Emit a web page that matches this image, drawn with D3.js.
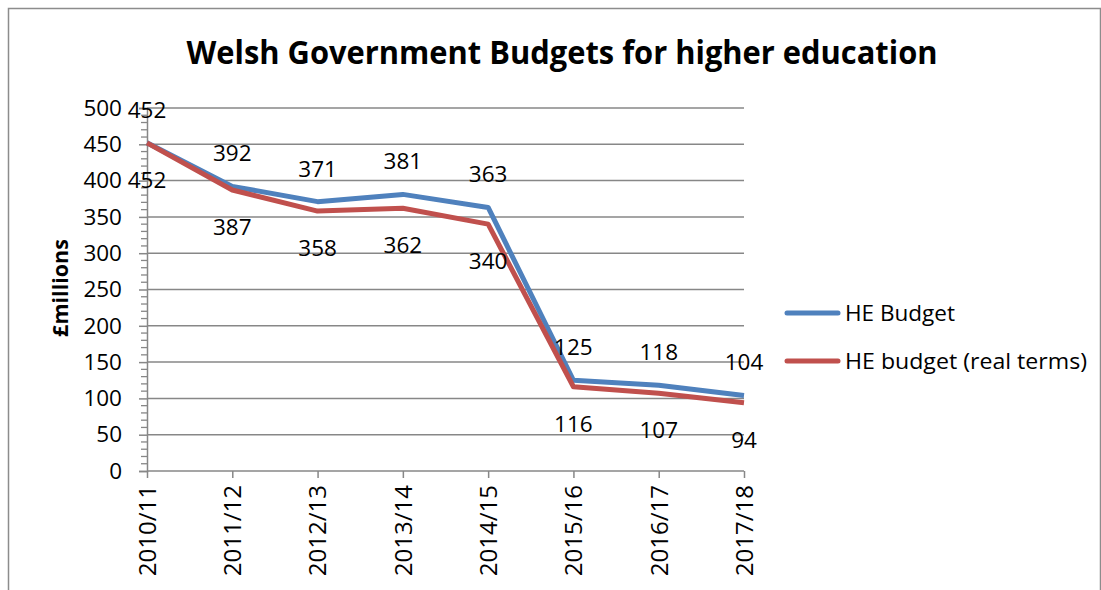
<!DOCTYPE html>
<html><head><meta charset="utf-8">
<script src="https://cdn.jsdelivr.net/npm/d3@7"></script>
<style>body{margin:0;background:#fff}svg{display:block}text{font-family:"Open Sans","Noto Sans",sans-serif;fill:#000}</style>
</head><body>
<script>
const categories = ["2010/11","2011/12","2012/13","2013/14","2014/15","2015/16","2016/17","2017/18"];
const heBudget = [452,392,371,381,363,125,118,104];
const heBudgetReal = [452,387,358,362,340,116,107,94];
const yTicks = [0,50,100,150,200,250,300,350,400,450,500];
const seriesNames = ["HE Budget","HE budget (real terms)"];
const colors = ["#4F81BD","#C0504D"];

const W=1101,H=590;
const svg=d3.select("body").append("svg").attr("width",W).attr("height",H);
// border
svg.append("path").attr("d","M8.5,590 V8.5 H1100.5 V590").attr("fill","none").attr("stroke","#8c8c8c").attr("stroke-width",1.5);

const x=d3.scalePoint().domain(categories).range([147,744]);
const y=d3.scaleLinear().domain([0,500]).range([471,108]);

// gridlines
svg.append("g").selectAll("line").data(yTicks.filter(d=>d>0)).join("line")
 .attr("x1",147).attr("x2",744).attr("y1",d=>y(d)).attr("y2",d=>y(d))
 .attr("stroke","#878787").attr("stroke-width",1.5);

// minor ticks
const minor=d3.range(0,500.01,10).filter(d=>d%50!==0);
svg.append("g").selectAll("line").data(minor).join("line")
 .attr("x1",141).attr("x2",147).attr("y1",d=>y(d)).attr("y2",d=>y(d))
 .attr("stroke","#878787").attr("stroke-width",1.3);

// y axis
const yAxis=d3.axisLeft(y).tickValues(yTicks).tickSize(8).tickPadding(17);
const gy=svg.append("g").attr("transform","translate(147,0)").call(yAxis);
gy.select(".domain").attr("stroke","#878787").attr("stroke-width",1.5);
gy.selectAll(".tick line").attr("stroke","#878787").attr("stroke-width",1.5);
gy.selectAll(".tick text").attr("font-size",22.5).attr("font-family","'Open Sans'").attr("fill","#000");

// x axis
const xAxis=d3.axisBottom(x).tickSize(7).tickPadding(8);
const gx=svg.append("g").attr("transform","translate(0,471)").call(xAxis);
gx.select(".domain").attr("stroke","#878787").attr("stroke-width",1.5).attr("d","M147,0H744");
gx.selectAll(".tick line").attr("stroke","#878787").attr("stroke-width",1.5);
gx.selectAll(".tick text").attr("font-size",24).attr("font-family","'Open Sans'").attr("fill","#000")
 .attr("transform","rotate(-90)").attr("text-anchor","end").attr("dy","0.35em").attr("x",-14).attr("y",0);

// lines
const line=d3.line().x((d,i)=>x(categories[i])).y(d=>y(d));
[heBudget,heBudgetReal].forEach((s,k)=>{
 svg.append("path").datum(s).attr("d",line).attr("fill","none").attr("stroke",colors[k]).attr("stroke-width",5).attr("stroke-linejoin","round");
});
// labels
svg.append("g").selectAll("text").data(heBudget).join("text")
 .attr("x",(d,i)=>x(categories[i])).attr("y",d=>y(d)-33).attr("dy","0.35em").attr("text-anchor","middle").attr("font-size",22.5).text(d=>d);
svg.append("g").selectAll("text").data(heBudgetReal).join("text")
 .attr("x",(d,i)=>x(categories[i])).attr("y",d=>y(d)+37).attr("dy","0.35em").attr("text-anchor","middle").attr("font-size",22.5).text(d=>d);

// title
svg.append("text").attr("x",562).attr("y",64).attr("text-anchor","middle").attr("font-size",32).attr("font-weight","bold")
 .attr("textLength",751).attr("lengthAdjust","spacingAndGlyphs").text("Welsh Government Budgets for higher education");
// y title
svg.append("text").attr("transform","translate(60,288) rotate(-90)").attr("text-anchor","middle").attr("dy","0.35em")
 .attr("font-size",21.5).attr("font-weight","bold").text("£millions");

// legend
const lg=svg.append("g");
const legendLen=[110,242];
seriesNames.forEach((n,k)=>{
 const yy=313+k*48;
 lg.append("line").attr("x1",787).attr("x2",838).attr("y1",yy).attr("y2",yy).attr("stroke",colors[k]).attr("stroke-width",5).attr("stroke-linecap","round");
 lg.append("text").attr("x",845).attr("y",yy).attr("dy","0.35em").attr("font-size",22.5)
   .attr("textLength",legendLen[k]).attr("lengthAdjust","spacingAndGlyphs").text(n);
});
</script>
</body></html>
